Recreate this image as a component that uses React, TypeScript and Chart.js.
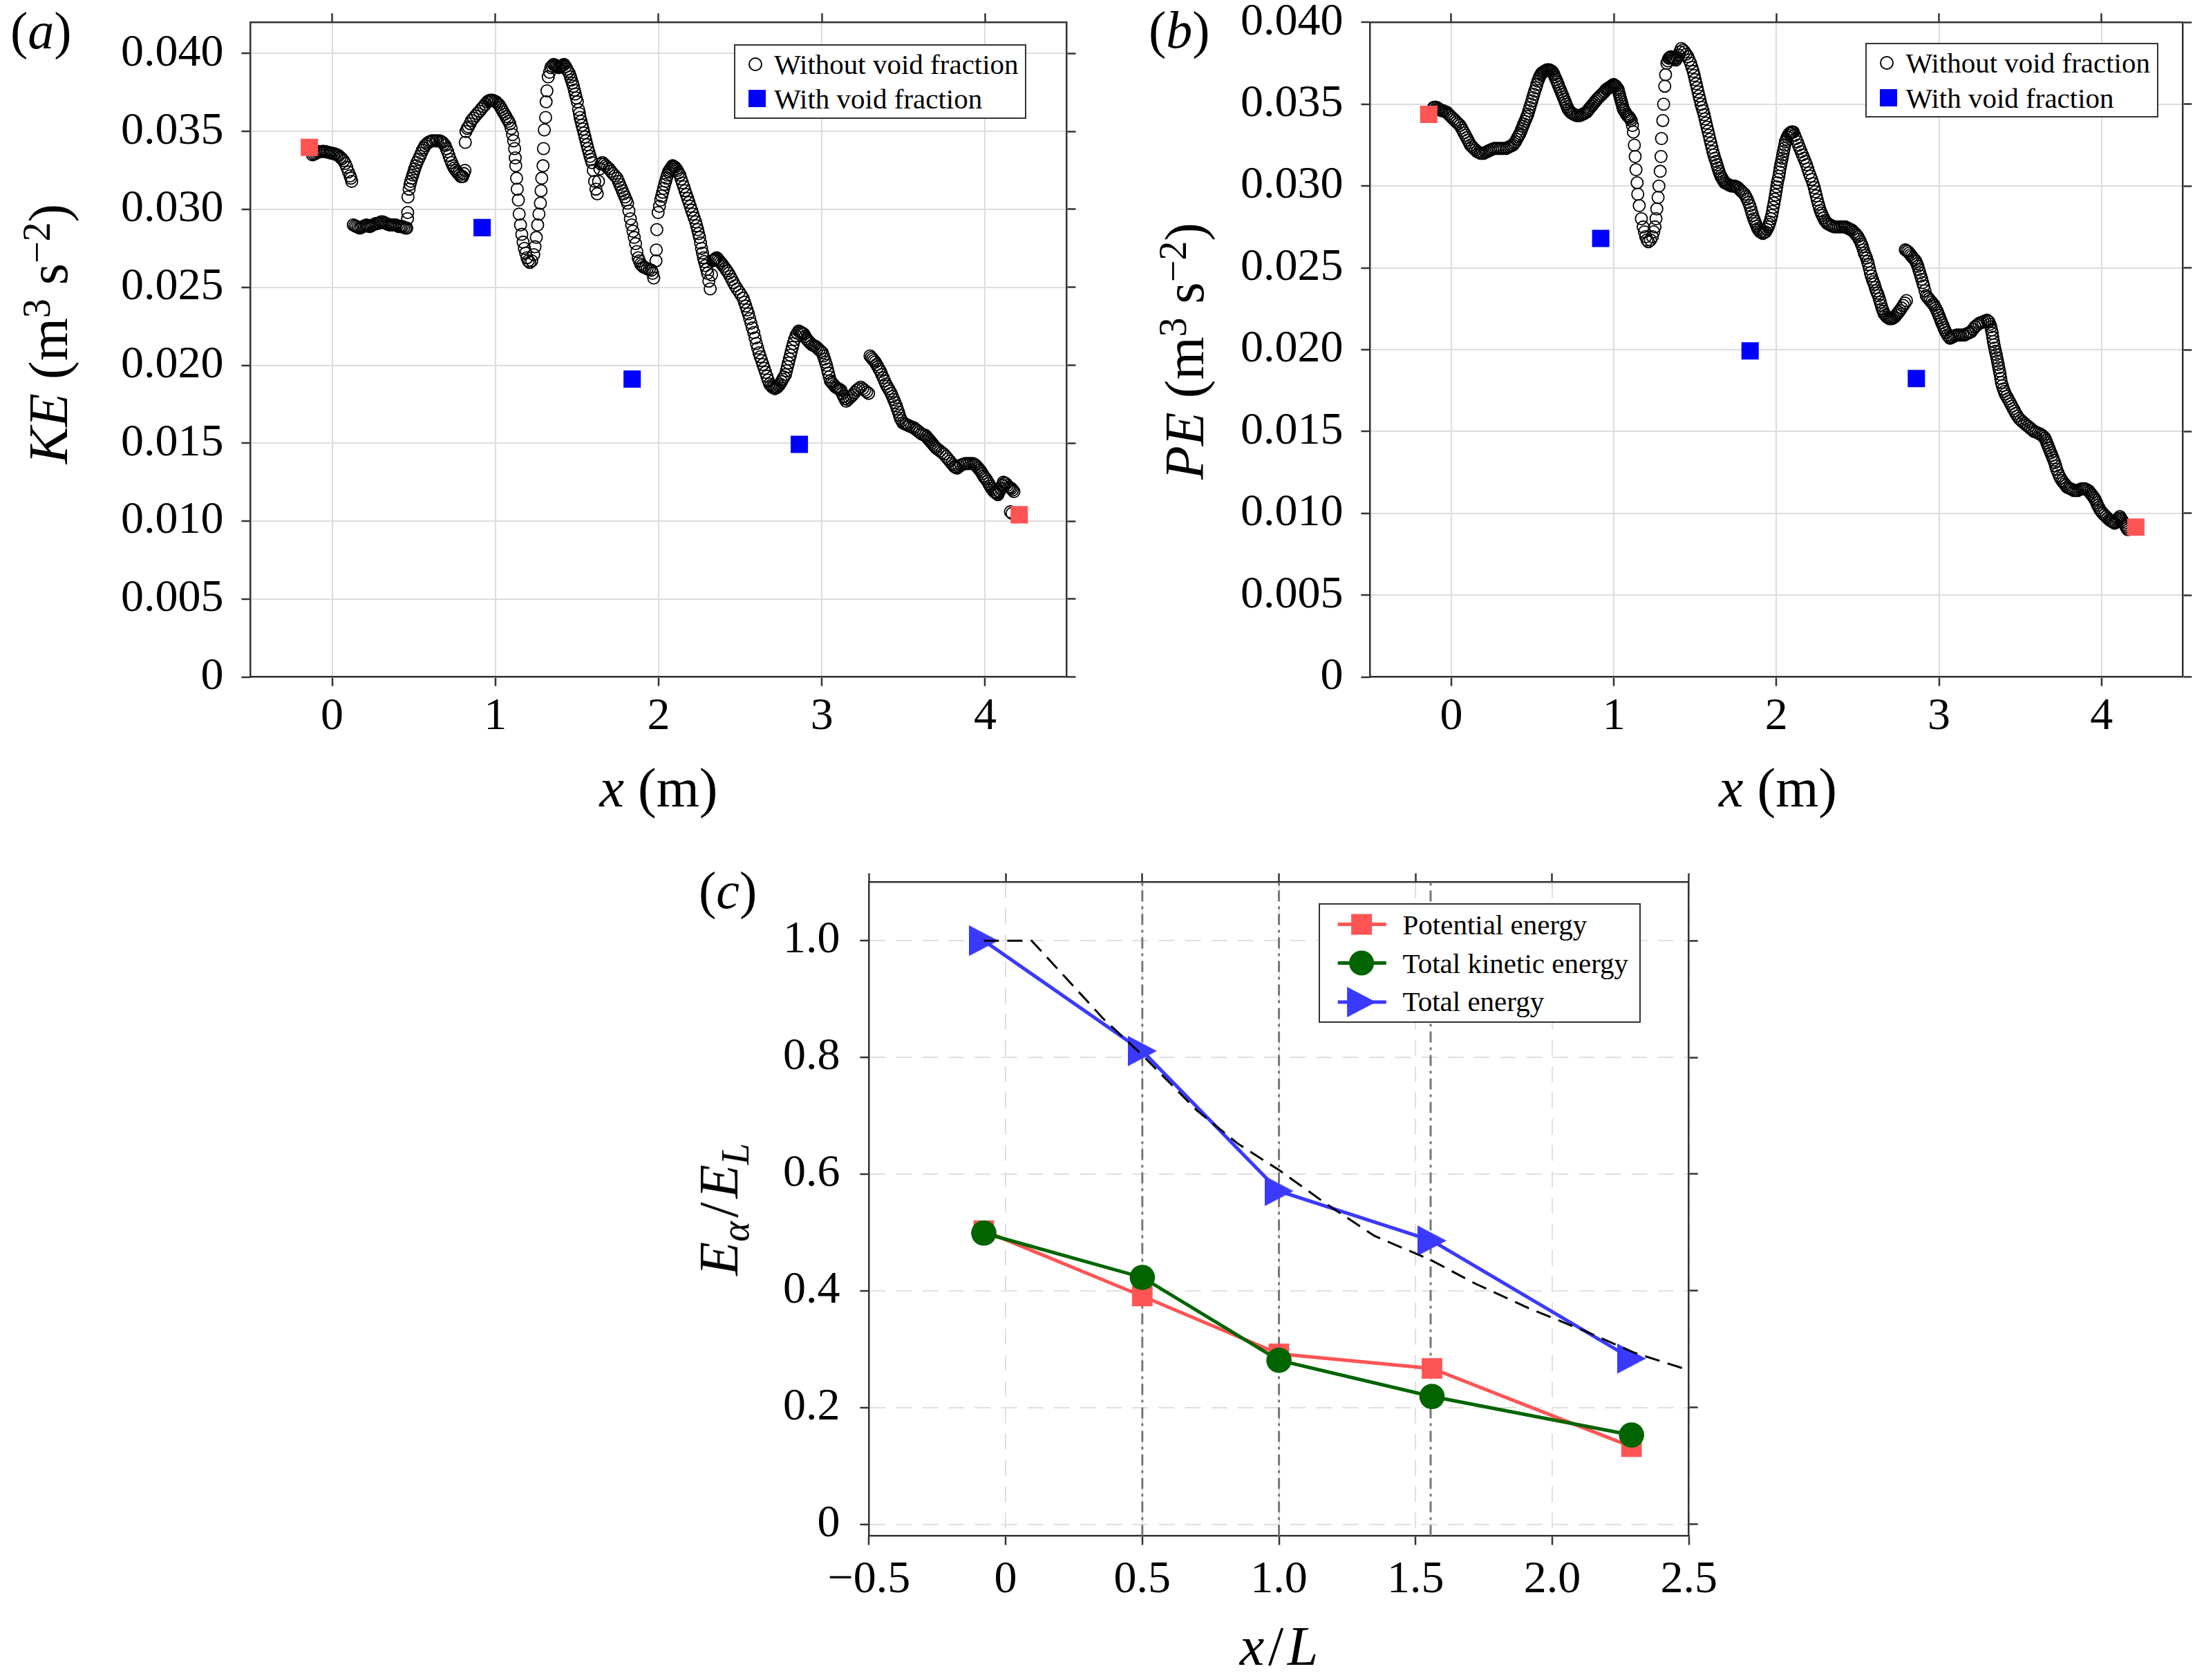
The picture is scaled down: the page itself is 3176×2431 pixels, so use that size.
import React, { useEffect, useRef } from "react";
import { Chart, registerables } from "chart.js";

Chart.register(...registerables);

const SERIF = "'Liberation Serif', 'Times New Roman', Times, serif";
const FRAME = "#333333";
const GRID_SOLID = "#dddddd";
const GRID_DASH = "#e0e0e0";

// ---------- Panel (a): kinetic energy, without void fraction ----------
const keWithout: number[][] = [
  [-0.12, 0.0335], [-0.11, 0.03355], [-0.1, 0.0336], [-0.09, 0.03365], [-0.08, 0.0337], [-0.07, 0.0337],
  [-0.06, 0.03372], [-0.05, 0.03372], [-0.04, 0.0337], [-0.03, 0.03368], [-0.02, 0.03365], [-0.01, 0.03362],
  [0, 0.0336], [0.01, 0.03358], [0.02, 0.03355], [0.03, 0.0335], [0.04, 0.03345], [0.05, 0.03335],
  [0.06, 0.03325], [0.07, 0.03312], [0.08, 0.03295], [0.09, 0.0327], [0.1, 0.0324], [0.11, 0.03215],
  [0.115, 0.032], [0.12, 0.0318],
  [0.13, 0.029], [0.14, 0.02895], [0.15, 0.0289], [0.16, 0.02885], [0.17, 0.0288], [0.18, 0.02885],
  [0.19, 0.0289], [0.2, 0.02895], [0.21, 0.029], [0.22, 0.02895], [0.23, 0.0289], [0.24, 0.02895],
  [0.25, 0.029], [0.26, 0.02905], [0.27, 0.0291], [0.28, 0.0291], [0.29, 0.02912], [0.3, 0.0292],
  [0.31, 0.0292], [0.32, 0.02915], [0.33, 0.0291], [0.34, 0.02905], [0.35, 0.029], [0.36, 0.029],
  [0.37, 0.029], [0.38, 0.029], [0.39, 0.029], [0.4, 0.02895], [0.41, 0.0289], [0.42, 0.0289],
  [0.43, 0.0289], [0.44, 0.02885], [0.45, 0.0288], [0.457, 0.0288],
  [0.462, 0.0294], [0.463, 0.0298], [0.465, 0.0308], [0.472, 0.0313], [0.477, 0.0316], [0.482, 0.0318],
  [0.488, 0.032], [0.494, 0.0322], [0.5, 0.0324], [0.506, 0.0326], [0.513, 0.0328], [0.52, 0.033],
  [0.529, 0.0332], [0.538, 0.0334], [0.546, 0.0336], [0.554, 0.0338], [0.562, 0.03395], [0.57, 0.0341],
  [0.58, 0.0342], [0.59, 0.0343], [0.6, 0.03435], [0.611, 0.0344], [0.62, 0.0344], [0.635, 0.0344],
  [0.645, 0.0344], [0.66, 0.0344], [0.668, 0.03435], [0.676, 0.0343], [0.684, 0.0342], [0.692, 0.0341],
  [0.7, 0.0339], [0.708, 0.0337], [0.716, 0.03345], [0.724, 0.0332], [0.732, 0.033], [0.74, 0.0328],
  [0.748, 0.03265], [0.757, 0.0325], [0.765, 0.0324], [0.773, 0.0323], [0.781, 0.0322], [0.789, 0.0321],
  [0.795, 0.0321], [0.8, 0.0321], [0.807, 0.0323], [0.814, 0.0325],
  [0.816, 0.0343], [0.82, 0.035], [0.828, 0.0352], [0.835, 0.0353], [0.845, 0.0355], [0.854, 0.0357],
  [0.866, 0.03585], [0.878, 0.036], [0.89, 0.03615], [0.903, 0.0363], [0.915, 0.03645], [0.927, 0.0366],
  [0.939, 0.03675], [0.951, 0.0369], [0.96, 0.03697], [0.968, 0.037], [0.976, 0.037], [0.984, 0.037],
  [0.994, 0.03695], [1.004, 0.0369], [1.014, 0.0368], [1.024, 0.0367], [1.032, 0.03655], [1.04, 0.0364],
  [1.048, 0.03625], [1.057, 0.0361], [1.065, 0.03595], [1.073, 0.0358], [1.081, 0.03565], [1.089, 0.0355],
  [1.097, 0.0352], [1.105, 0.0348], [1.112, 0.0344], [1.118, 0.0339], [1.122, 0.0333], [1.125, 0.0328],
  [1.13, 0.032], [1.134, 0.0313], [1.141, 0.0306], [1.146, 0.0297], [1.154, 0.029], [1.162, 0.0284],
  [1.17, 0.0279], [1.178, 0.0275], [1.186, 0.0272], [1.194, 0.0269], [1.202, 0.0267], [1.211, 0.0266],
  [1.223, 0.0267], [1.235, 0.0271], [1.243, 0.0276], [1.251, 0.0282], [1.259, 0.029], [1.267, 0.0297],
  [1.276, 0.0304], [1.28, 0.0312], [1.284, 0.032], [1.292, 0.0328], [1.295, 0.0339], [1.3, 0.0351],
  [1.308, 0.0359], [1.311, 0.0369], [1.316, 0.0376], [1.324, 0.0385], [1.332, 0.0388], [1.34, 0.0391],
  [1.348, 0.0392], [1.357, 0.0393], [1.365, 0.03925], [1.373, 0.0392], [1.381, 0.03915], [1.389, 0.0391],
  [1.397, 0.03915], [1.405, 0.0392], [1.413, 0.03925], [1.421, 0.0393], [1.43, 0.03915], [1.438, 0.039],
  [1.446, 0.03885], [1.454, 0.0387], [1.46, 0.0385], [1.466, 0.0383], [1.472, 0.0381], [1.478, 0.0379],
  [1.484, 0.03765], [1.49, 0.0374], [1.496, 0.03715], [1.502, 0.0369], [1.51, 0.0364], [1.515, 0.03615],
  [1.519, 0.0359], [1.525, 0.03565], [1.531, 0.0354], [1.537, 0.03515], [1.543, 0.0349], [1.549, 0.03465],
  [1.555, 0.0344], [1.561, 0.03415], [1.567, 0.0339], [1.574, 0.03365], [1.58, 0.0334], [1.586, 0.0332],
  [1.592, 0.033], [1.6, 0.0325], [1.608, 0.0318], [1.616, 0.0313], [1.624, 0.031], [1.632, 0.0318],
  [1.64, 0.0326], [1.648, 0.0329], [1.656, 0.033], [1.666, 0.0329], [1.676, 0.0328], [1.686, 0.0327],
  [1.697, 0.0326], [1.708, 0.03245], [1.72, 0.0323], [1.733, 0.03215], [1.746, 0.032], [1.754, 0.0318],
  [1.762, 0.0316], [1.77, 0.0314], [1.778, 0.0312], [1.786, 0.031], [1.794, 0.0308], [1.802, 0.0306],
  [1.81, 0.0304], [1.818, 0.0299], [1.827, 0.0294], [1.835, 0.029], [1.843, 0.0286], [1.851, 0.0282],
  [1.859, 0.0278], [1.867, 0.0273], [1.875, 0.0269], [1.882, 0.0267], [1.89, 0.0265], [1.899, 0.0264],
  [1.908, 0.0263], [1.919, 0.02625], [1.93, 0.0262], [1.943, 0.02615], [1.956, 0.0261], [1.963, 0.0259],
  [1.97, 0.0256], [1.984, 0.0267], [1.986, 0.0274], [1.989, 0.0287], [1.997, 0.0298], [2.005, 0.0302],
  [2.013, 0.0306], [2.019, 0.03085], [2.025, 0.0311], [2.031, 0.03135], [2.037, 0.0316], [2.043, 0.0318],
  [2.048, 0.032], [2.054, 0.0322], [2.06, 0.0324], [2.066, 0.0325], [2.073, 0.0326], [2.08, 0.0327],
  [2.086, 0.0328], [2.093, 0.03275], [2.1, 0.0327], [2.108, 0.0326], [2.115, 0.0325], [2.122, 0.03235],
  [2.13, 0.0322], [2.138, 0.03195], [2.146, 0.0317], [2.154, 0.03145], [2.162, 0.0312], [2.17, 0.03095],
  [2.178, 0.0307], [2.186, 0.03045], [2.194, 0.0302], [2.202, 0.02995], [2.21, 0.0297], [2.218, 0.02945],
  [2.227, 0.0292], [2.233, 0.02895], [2.239, 0.0287], [2.245, 0.02845], [2.251, 0.0282], [2.257, 0.02785],
  [2.263, 0.0275], [2.269, 0.0272], [2.275, 0.0269], [2.281, 0.02665], [2.288, 0.0264], [2.294, 0.02615],
  [2.3, 0.0259], [2.308, 0.0254], [2.316, 0.0249], [2.324, 0.0258], [2.332, 0.0267], [2.338, 0.02675],
  [2.344, 0.0268], [2.35, 0.02685], [2.356, 0.0269], [2.364, 0.0268], [2.372, 0.0267], [2.38, 0.0266],
  [2.388, 0.0265], [2.398, 0.02635], [2.409, 0.0262], [2.419, 0.02605], [2.429, 0.0259], [2.439, 0.0257],
  [2.449, 0.0255], [2.459, 0.0253], [2.469, 0.0251], [2.481, 0.0249], [2.494, 0.0247], [2.506, 0.0245],
  [2.518, 0.0243], [2.526, 0.02405], [2.534, 0.0238], [2.542, 0.02355], [2.55, 0.0233], [2.558, 0.023],
  [2.566, 0.0227], [2.574, 0.0224], [2.583, 0.0221], [2.591, 0.02175], [2.599, 0.0214], [2.607, 0.0211],
  [2.615, 0.0208], [2.623, 0.02055], [2.631, 0.0203], [2.639, 0.02005], [2.647, 0.0198], [2.655, 0.01955],
  [2.663, 0.0193], [2.671, 0.01905], [2.68, 0.0188], [2.688, 0.0187], [2.696, 0.0186], [2.704, 0.01855],
  [2.712, 0.0185], [2.72, 0.01855], [2.728, 0.0186], [2.736, 0.0187], [2.744, 0.0188], [2.752, 0.01895],
  [2.76, 0.0191], [2.768, 0.01925], [2.777, 0.0194], [2.783, 0.01965], [2.789, 0.0199], [2.795, 0.02015],
  [2.801, 0.0204], [2.807, 0.02065], [2.813, 0.0209], [2.819, 0.02115], [2.825, 0.0214], [2.833, 0.02165],
  [2.841, 0.0219], [2.85, 0.02205], [2.858, 0.0222], [2.866, 0.02215], [2.874, 0.0221], [2.882, 0.02205],
  [2.89, 0.022], [2.898, 0.02185], [2.906, 0.0217], [2.914, 0.0216], [2.922, 0.0215], [2.932, 0.0214],
  [2.942, 0.0213], [2.953, 0.02125], [2.963, 0.0212], [2.973, 0.0211], [2.983, 0.021], [2.993, 0.0209],
  [3.003, 0.0208], [3.01, 0.0206], [3.016, 0.0204], [3.022, 0.0202], [3.028, 0.02], [3.034, 0.01975],
  [3.04, 0.0195], [3.046, 0.01925], [3.052, 0.019], [3.06, 0.0189], [3.068, 0.0188], [3.076, 0.0187],
  [3.084, 0.0186], [3.092, 0.01855], [3.1, 0.0185], [3.108, 0.01845], [3.117, 0.0184], [3.125, 0.0182],
  [3.133, 0.018], [3.141, 0.01785], [3.149, 0.0177], [3.159, 0.0178], [3.169, 0.0179], [3.179, 0.018],
  [3.189, 0.0181], [3.201, 0.01825], [3.213, 0.0184], [3.225, 0.0185], [3.238, 0.0186], [3.25, 0.0185],
  [3.262, 0.0184], [3.274, 0.0183], [3.286, 0.0182],
  [3.295, 0.0206], [3.303, 0.0205], [3.311, 0.0204], [3.319, 0.0203], [3.327, 0.0202], [3.335, 0.02005],
  [3.343, 0.0199], [3.351, 0.01975], [3.359, 0.0196], [3.367, 0.0194], [3.376, 0.0192], [3.384, 0.019],
  [3.392, 0.0188], [3.4, 0.01865], [3.408, 0.0185], [3.416, 0.01835], [3.424, 0.0182], [3.432, 0.018],
  [3.44, 0.0178], [3.448, 0.0176], [3.456, 0.0174], [3.462, 0.0172], [3.469, 0.017], [3.475, 0.0168],
  [3.481, 0.0166], [3.489, 0.01645], [3.497, 0.0163], [3.507, 0.01625], [3.517, 0.0162], [3.527, 0.01615],
  [3.537, 0.0161], [3.55, 0.01605], [3.562, 0.016], [3.574, 0.0159], [3.586, 0.0158], [3.598, 0.0157],
  [3.61, 0.0156], [3.622, 0.01555], [3.634, 0.0155], [3.642, 0.0154], [3.65, 0.0153], [3.658, 0.0152],
  [3.667, 0.0151], [3.675, 0.015], [3.683, 0.0149], [3.691, 0.0148], [3.699, 0.0147], [3.711, 0.0146],
  [3.724, 0.0145], [3.736, 0.0144], [3.748, 0.0143], [3.76, 0.01415], [3.772, 0.014], [3.784, 0.01385],
  [3.796, 0.0137], [3.804, 0.0136], [3.812, 0.0135], [3.82, 0.01345], [3.828, 0.0134], [3.84, 0.0135],
  [3.852, 0.0136], [3.865, 0.01365], [3.877, 0.0137], [3.889, 0.0137], [3.901, 0.0137], [3.913, 0.0137],
  [3.926, 0.0137], [3.934, 0.01365], [3.942, 0.0136], [3.95, 0.0135], [3.958, 0.0134], [3.966, 0.0133],
  [3.974, 0.0132], [3.982, 0.01305], [3.99, 0.0129], [3.998, 0.0128], [4.006, 0.0127], [4.014, 0.01255],
  [4.023, 0.0124], [4.031, 0.01225], [4.039, 0.0121], [4.047, 0.012], [4.055, 0.0119], [4.061, 0.01185],
  [4.067, 0.0118], [4.073, 0.01175], [4.079, 0.0117], [4.087, 0.0119], [4.096, 0.0121], [4.104, 0.0123],
  [4.112, 0.0125], [4.12, 0.01245], [4.128, 0.0124], [4.136, 0.0123], [4.144, 0.0122], [4.152, 0.01215],
  [4.16, 0.0121], [4.168, 0.012], [4.176, 0.0119], [4.155, 0.0106], [4.165, 0.0105],
];
const keWithVoid: number[][] = [[0.919, 0.02883], [1.838, 0.01912], [2.862, 0.01493]];
const keEnds: number[][] = [[-0.139, 0.03398], [4.209, 0.01041]];

// ---------- Panel (b): potential energy, without void fraction ----------
const peWithout: number[][] = [
  [-0.109, 0.0348], [-0.1, 0.03482], [-0.09, 0.0348], [-0.083, 0.03475], [-0.076, 0.0347], [-0.068, 0.03465],
  [-0.06, 0.0346], [-0.05, 0.0346], [-0.04, 0.03455], [-0.028, 0.0345], [-0.018, 0.0344], [-0.008, 0.0343],
  [0.002, 0.0342], [0.013, 0.0341], [0.023, 0.034], [0.033, 0.0339], [0.043, 0.0338], [0.053, 0.0337],
  [0.062, 0.03355], [0.07, 0.0334], [0.078, 0.03325], [0.086, 0.0331], [0.094, 0.03295], [0.102, 0.0328],
  [0.11, 0.03265], [0.118, 0.0325], [0.128, 0.0324], [0.138, 0.0323], [0.148, 0.0322], [0.159, 0.0321],
  [0.169, 0.03205], [0.179, 0.032], [0.189, 0.032], [0.199, 0.032], [0.21, 0.03205], [0.22, 0.0321],
  [0.23, 0.03215], [0.24, 0.0322], [0.252, 0.03225], [0.264, 0.0323], [0.276, 0.0323], [0.288, 0.0323],
  [0.3, 0.0323], [0.312, 0.0323], [0.324, 0.0323], [0.337, 0.0323], [0.347, 0.03235], [0.357, 0.0324],
  [0.367, 0.03245], [0.378, 0.0325], [0.386, 0.0326], [0.394, 0.0327], [0.402, 0.03285], [0.41, 0.033],
  [0.416, 0.0331], [0.422, 0.0332], [0.428, 0.03335], [0.434, 0.0335], [0.44, 0.03365], [0.446, 0.0338],
  [0.452, 0.03395], [0.459, 0.0341], [0.465, 0.03425], [0.471, 0.0344], [0.477, 0.0346], [0.483, 0.0348],
  [0.489, 0.035], [0.495, 0.0352], [0.501, 0.0354], [0.507, 0.0356], [0.513, 0.0358], [0.52, 0.036],
  [0.526, 0.0362], [0.532, 0.0364], [0.538, 0.03655], [0.544, 0.0367], [0.55, 0.0368], [0.556, 0.0369],
  [0.564, 0.03695], [0.572, 0.037], [0.58, 0.03705], [0.588, 0.0371], [0.596, 0.0371], [0.604, 0.0371],
  [0.612, 0.03705], [0.62, 0.037], [0.626, 0.0369], [0.632, 0.0368], [0.638, 0.03665], [0.645, 0.0365],
  [0.651, 0.03635], [0.657, 0.0362], [0.663, 0.03605], [0.669, 0.0359], [0.676, 0.03575], [0.682, 0.0356],
  [0.688, 0.03545], [0.694, 0.0353], [0.7, 0.03515], [0.706, 0.035], [0.712, 0.03485], [0.718, 0.0347],
  [0.726, 0.0346], [0.734, 0.0345], [0.742, 0.03445], [0.75, 0.0344], [0.76, 0.03435], [0.77, 0.0343],
  [0.78, 0.0343], [0.791, 0.0343], [0.801, 0.03435], [0.811, 0.0344], [0.821, 0.03445], [0.831, 0.0345],
  [0.839, 0.0346], [0.847, 0.0347], [0.855, 0.0348], [0.864, 0.0349], [0.872, 0.035], [0.88, 0.0351],
  [0.888, 0.0352], [0.896, 0.0353], [0.906, 0.0354], [0.916, 0.0355], [0.926, 0.0356], [0.937, 0.0357],
  [0.945, 0.0358], [0.953, 0.0359], [0.961, 0.03595], [0.969, 0.036], [0.977, 0.03605], [0.984, 0.0361],
  [0.991, 0.03615], [0.998, 0.0362], [1.005, 0.03615], [1.012, 0.0361], [1.019, 0.036], [1.026, 0.0359],
  [1.03, 0.03575], [1.034, 0.0356], [1.038, 0.03545], [1.042, 0.0353], [1.046, 0.03515], [1.05, 0.035],
  [1.054, 0.03485], [1.058, 0.0347], [1.064, 0.0346], [1.07, 0.0345], [1.076, 0.0344], [1.083, 0.0343],
  [1.089, 0.03425], [1.095, 0.0342], [1.101, 0.0341], [1.107, 0.034], [1.114, 0.0337], [1.12, 0.0333],
  [1.126, 0.0325], [1.131, 0.0318], [1.136, 0.031], [1.143, 0.0302], [1.147, 0.0295], [1.156, 0.0288],
  [1.169, 0.028], [1.18, 0.0275], [1.188, 0.0272], [1.196, 0.0269], [1.204, 0.0267], [1.212, 0.0266],
  [1.225, 0.0267], [1.237, 0.0269], [1.245, 0.0272], [1.253, 0.0275], [1.259, 0.028], [1.264, 0.0286],
  [1.272, 0.0293], [1.277, 0.03], [1.285, 0.0309], [1.29, 0.0318], [1.293, 0.0329], [1.301, 0.034],
  [1.306, 0.035], [1.313, 0.0361], [1.318, 0.0368], [1.326, 0.0375], [1.332, 0.03765], [1.338, 0.0378],
  [1.344, 0.03785], [1.35, 0.0379], [1.358, 0.03785], [1.366, 0.0378], [1.374, 0.03775], [1.382, 0.0377],
  [1.39, 0.03785], [1.398, 0.038], [1.406, 0.0382], [1.415, 0.0384], [1.425, 0.0383], [1.435, 0.0382],
  [1.445, 0.03805], [1.455, 0.0379], [1.463, 0.0377], [1.472, 0.0375], [1.48, 0.03725], [1.488, 0.037],
  [1.494, 0.03675], [1.5, 0.0365], [1.506, 0.03625], [1.512, 0.036], [1.518, 0.03575], [1.524, 0.0355],
  [1.53, 0.03525], [1.536, 0.035], [1.542, 0.0348], [1.548, 0.0346], [1.555, 0.03435], [1.561, 0.0341],
  [1.567, 0.03385], [1.573, 0.0336], [1.579, 0.03335], [1.585, 0.0331], [1.591, 0.03285], [1.597, 0.0326],
  [1.603, 0.03235], [1.609, 0.0321], [1.615, 0.0319], [1.621, 0.0317], [1.628, 0.0315], [1.634, 0.0313],
  [1.64, 0.0311], [1.646, 0.0309], [1.652, 0.03075], [1.658, 0.0306], [1.664, 0.0305], [1.67, 0.0304],
  [1.676, 0.0303], [1.682, 0.0302], [1.692, 0.03015], [1.702, 0.0301], [1.712, 0.03005], [1.723, 0.03],
  [1.733, 0.03], [1.743, 0.03], [1.753, 0.02995], [1.763, 0.0299], [1.773, 0.0298], [1.783, 0.0297],
  [1.793, 0.0296], [1.804, 0.0295], [1.812, 0.02935], [1.82, 0.0292], [1.828, 0.029], [1.836, 0.0288],
  [1.842, 0.0286], [1.848, 0.0284], [1.854, 0.0282], [1.861, 0.028], [1.867, 0.02785], [1.873, 0.0277],
  [1.879, 0.02755], [1.885, 0.0274], [1.892, 0.0273], [1.9, 0.0272], [1.908, 0.02715], [1.917, 0.0271],
  [1.925, 0.02715], [1.933, 0.0272], [1.941, 0.02735], [1.95, 0.0275], [1.955, 0.02765], [1.96, 0.0278],
  [1.966, 0.028], [1.971, 0.0282], [1.976, 0.02845], [1.98, 0.0287], [1.985, 0.02895], [1.99, 0.0292],
  [1.994, 0.02945], [1.998, 0.0297], [2.002, 0.02995], [2.006, 0.0302], [2.01, 0.0304], [2.015, 0.0306],
  [2.019, 0.03085], [2.023, 0.0311], [2.027, 0.0313], [2.031, 0.0315], [2.035, 0.0317], [2.039, 0.0319],
  [2.043, 0.0321], [2.047, 0.0323], [2.051, 0.0325], [2.055, 0.0327], [2.061, 0.03285], [2.067, 0.033],
  [2.073, 0.0331], [2.079, 0.0332], [2.085, 0.03325], [2.092, 0.0333], [2.098, 0.0333], [2.104, 0.0333],
  [2.112, 0.0331], [2.12, 0.0329], [2.128, 0.0327], [2.136, 0.0325], [2.144, 0.0323], [2.152, 0.0321],
  [2.16, 0.0319], [2.169, 0.0317], [2.177, 0.0315], [2.185, 0.0313], [2.193, 0.03105], [2.201, 0.0308],
  [2.209, 0.0306], [2.217, 0.0304], [2.225, 0.03015], [2.233, 0.0299], [2.239, 0.02965], [2.245, 0.0294],
  [2.251, 0.02915], [2.258, 0.0289], [2.264, 0.0287], [2.27, 0.0285], [2.276, 0.02835], [2.282, 0.0282],
  [2.29, 0.02805], [2.298, 0.0279], [2.306, 0.0278], [2.314, 0.0277], [2.324, 0.02765], [2.334, 0.0276],
  [2.345, 0.02755], [2.355, 0.0275], [2.367, 0.0275], [2.38, 0.0275], [2.392, 0.0275], [2.404, 0.0275],
  [2.414, 0.0275], [2.424, 0.0275], [2.434, 0.02745], [2.444, 0.0274], [2.455, 0.02735], [2.465, 0.0273],
  [2.475, 0.0272], [2.485, 0.0271], [2.493, 0.027], [2.501, 0.0269], [2.509, 0.02675], [2.517, 0.0266],
  [2.523, 0.02645], [2.529, 0.0263], [2.535, 0.0261], [2.541, 0.0259], [2.548, 0.02575], [2.554, 0.0256],
  [2.56, 0.0254], [2.566, 0.0252], [2.572, 0.02495], [2.578, 0.0247], [2.584, 0.0245], [2.59, 0.0243],
  [2.596, 0.02415], [2.602, 0.024], [2.608, 0.0238], [2.614, 0.0236], [2.621, 0.02345], [2.627, 0.0233],
  [2.633, 0.0231], [2.639, 0.0229], [2.645, 0.0227], [2.651, 0.0225], [2.657, 0.02235], [2.663, 0.0222],
  [2.671, 0.0221], [2.679, 0.022], [2.687, 0.02195], [2.695, 0.0219], [2.703, 0.0219], [2.711, 0.0219],
  [2.72, 0.02195], [2.728, 0.022], [2.736, 0.0221], [2.744, 0.0222], [2.752, 0.0223], [2.76, 0.0224],
  [2.77, 0.02255], [2.78, 0.0227], [2.79, 0.02285], [2.8, 0.023],
  [2.793, 0.0261], [2.801, 0.02605], [2.809, 0.026], [2.817, 0.0259], [2.825, 0.0258], [2.833, 0.0257],
  [2.841, 0.0256], [2.85, 0.0255], [2.858, 0.0254], [2.864, 0.02525], [2.87, 0.0251], [2.876, 0.0249],
  [2.882, 0.0247], [2.888, 0.0245], [2.894, 0.0243], [2.9, 0.0241], [2.906, 0.0239], [2.914, 0.0236],
  [2.922, 0.0233], [2.93, 0.0232], [2.938, 0.0231], [2.946, 0.023], [2.955, 0.0229], [2.963, 0.0228],
  [2.971, 0.0227], [2.979, 0.02255], [2.987, 0.0224], [2.993, 0.02225], [2.999, 0.0221], [3.005, 0.02195],
  [3.011, 0.0218], [3.017, 0.02165], [3.024, 0.0215], [3.03, 0.02135], [3.036, 0.0212], [3.044, 0.02105],
  [3.052, 0.0209], [3.06, 0.0208], [3.068, 0.0207], [3.078, 0.02075], [3.088, 0.0208], [3.098, 0.02085],
  [3.109, 0.0209], [3.121, 0.0209], [3.133, 0.0209], [3.145, 0.0209], [3.157, 0.0209], [3.167, 0.02095],
  [3.178, 0.021], [3.188, 0.02105], [3.198, 0.0211], [3.21, 0.02125], [3.222, 0.0214], [3.234, 0.0215],
  [3.246, 0.0216], [3.258, 0.02165], [3.27, 0.0217], [3.282, 0.02175], [3.295, 0.0218], [3.301, 0.02175],
  [3.307, 0.0217], [3.313, 0.02155], [3.319, 0.0214], [3.323, 0.0212], [3.327, 0.021], [3.331, 0.02075],
  [3.335, 0.0205], [3.339, 0.0203], [3.343, 0.0201], [3.347, 0.0199], [3.352, 0.0197], [3.356, 0.0195],
  [3.36, 0.0193], [3.364, 0.0191], [3.368, 0.0189], [3.372, 0.0187], [3.376, 0.0185], [3.38, 0.01825],
  [3.384, 0.018], [3.39, 0.0178], [3.396, 0.0176], [3.402, 0.01745], [3.408, 0.0173], [3.416, 0.01715],
  [3.425, 0.017], [3.433, 0.01685], [3.441, 0.0167], [3.449, 0.01655], [3.457, 0.0164], [3.465, 0.01625],
  [3.473, 0.0161], [3.483, 0.01595], [3.493, 0.0158], [3.503, 0.0157], [3.514, 0.0156], [3.526, 0.0155],
  [3.538, 0.0154], [3.55, 0.0153], [3.562, 0.0152], [3.574, 0.0151], [3.586, 0.015], [3.598, 0.01495],
  [3.611, 0.0149], [3.621, 0.01485], [3.631, 0.0148], [3.641, 0.0147], [3.652, 0.0146], [3.658, 0.01445],
  [3.664, 0.0143], [3.67, 0.01415], [3.676, 0.014], [3.682, 0.01385], [3.688, 0.0137], [3.694, 0.01355],
  [3.7, 0.0134], [3.706, 0.01325], [3.712, 0.0131], [3.718, 0.0129], [3.724, 0.0127], [3.732, 0.0125],
  [3.74, 0.0123], [3.748, 0.01215], [3.757, 0.012], [3.765, 0.0119], [3.773, 0.0118], [3.781, 0.0117],
  [3.789, 0.0116], [3.8, 0.01155], [3.81, 0.0115], [3.82, 0.01145], [3.83, 0.0114], [3.842, 0.0114],
  [3.854, 0.0114], [3.866, 0.01145], [3.878, 0.0115], [3.888, 0.0115], [3.898, 0.0115], [3.908, 0.01145],
  [3.919, 0.0114], [3.927, 0.0113], [3.935, 0.0112], [3.943, 0.0111], [3.951, 0.011], [3.957, 0.0109],
  [3.963, 0.0108], [3.97, 0.01065], [3.976, 0.0105], [3.984, 0.01035], [3.992, 0.0102], [4.0, 0.0101],
  [4.008, 0.01], [4.018, 0.0099], [4.028, 0.0098], [4.038, 0.0097], [4.049, 0.0096], [4.057, 0.00955],
  [4.065, 0.0095], [4.073, 0.00945], [4.081, 0.0094], [4.089, 0.0095], [4.097, 0.0096], [4.105, 0.0097],
  [4.113, 0.0098], [4.119, 0.0097], [4.125, 0.0096], [4.131, 0.0095], [4.138, 0.0094], [4.144, 0.0093],
  [4.15, 0.0092], [4.156, 0.0091], [4.162, 0.009],
];
const peWithVoid: number[][] = [[0.919, 0.0268], [1.838, 0.01993], [2.861, 0.01824]];
const peEnds: number[][] = [[-0.139, 0.03438], [4.211, 0.00916]];

const abXTicks = [0, 1, 2, 3, 4];
const abXLabels = ["0", "1", "2", "3", "4"];
const abYTicks = [0, 0.005, 0.01, 0.015, 0.02, 0.025, 0.03, 0.035, 0.04];
const abYLabels = ["0", "0.005", "0.010", "0.015", "0.020", "0.025", "0.030", "0.035", "0.040"];

// ---------- Panel (c): normalised energies ----------
const cX = [-0.08, 0.5, 1.0, 1.56, 2.29];
const cPotential = [0.503, 0.391, 0.292, 0.267, 0.133];
const cKinetic = [0.499, 0.423, 0.281, 0.219, 0.153];
const cTotal = [1.0, 0.811, 0.571, 0.486, 0.284];
const cRefX = [-0.08, 0.095, 0.36, 0.5, 0.7, 0.85, 1.0, 1.17, 1.35, 1.555, 1.72, 1.92, 2.12, 2.3, 2.5];
const cRefY = [1.0, 1.0, 0.865, 0.804, 0.709, 0.652, 0.607, 0.55, 0.494, 0.453, 0.412, 0.369, 0.331, 0.294, 0.264];
const cMarkX = [0.5, 1.0, 1.555];
const cXTicks = [-0.5, 0, 0.5, 1.0, 1.5, 2.0, 2.5];
const cXLabels = ["\u22120.5", "0", "0.5", "1.0", "1.5", "2.0", "2.5"];
const cYTicks = [0, 0.2, 0.4, 0.6, 0.8, 1.0];
const cYLabels = ["0", "0.2", "0.4", "0.6", "0.8", "1.0"];

const RED = "#ff5454";
const GREEN = "#006400";
const BLUE = "#3a3aff";
const PURE_BLUE = "#0000ff";

type Frame = {
  xMin: number; xMax: number; xTicks: number[]; xLabels: string[];
  yMin: number; yMax: number; yTicks: number[]; yLabels: string[];
  left: number; right: number; top: number; bottom: number;
  xPad: number; yPad: number; gridColor: string; dash: number[];
};

function frameScales(f: Frame): any {
  const font = { family: SERIF, size: 66 };
  const setTicks = (arr: number[]) => (s: any) => {
    s.ticks = arr.map((v) => ({ value: v }));
  };
  const mainGrid = {
    color: f.gridColor, lineWidth: 2, tickColor: FRAME, tickWidth: 2.5, tickLength: 13,
    tickBorderDash: [], drawTicks: true,
  };
  const farGrid = { drawOnChartArea: false, tickColor: FRAME, tickWidth: 2.5, tickLength: 13, drawTicks: true };
  const border = { display: true, color: FRAME, width: 2.5, dash: f.dash };
  const farBorder = { display: true, color: FRAME, width: 2.5 };
  return {
    x: {
      type: "linear", position: "bottom", min: f.xMin, max: f.xMax,
      afterBuildTicks: setTicks(f.xTicks),
      afterFit: (s: any) => { s.height = f.bottom; },
      ticks: {
        font, color: "#000", padding: f.xPad, autoSkip: false, maxRotation: 0, minRotation: 0,
        callback: (_v: any, i: number) => f.xLabels[i],
      },
      grid: mainGrid, border,
    },
    x2: {
      type: "linear", position: "top", min: f.xMin, max: f.xMax,
      afterBuildTicks: setTicks(f.xTicks),
      afterFit: (s: any) => { s.height = f.top; },
      ticks: { display: false },
      grid: farGrid, border: farBorder,
    },
    y: {
      type: "linear", position: "left", min: f.yMin, max: f.yMax,
      afterBuildTicks: setTicks(f.yTicks),
      afterFit: (s: any) => { s.width = f.left; },
      ticks: {
        font, color: "#000", padding: f.yPad, autoSkip: false,
        callback: (_v: any, i: number) => f.yLabels[i],
      },
      grid: mainGrid, border,
    },
    y2: {
      type: "linear", position: "right", min: f.yMin, max: f.yMax,
      afterBuildTicks: setTicks(f.yTicks),
      afterFit: (s: any) => { s.width = f.right; },
      ticks: { display: false },
      grid: farGrid, border: farBorder,
    },
  };
}

const baseOptions = {
  responsive: false,
  maintainAspectRatio: false,
  animation: false,
  devicePixelRatio: 1,
  events: [] as any[],
  layout: { padding: 0 },
  plugins: { legend: { display: false }, tooltip: { enabled: false } },
};

const toXY = (pts: number[][]) => pts.map(([x, y]) => ({ x, y }));

function energyConfig(without: number[][], withVoid: number[][], ends: number[][], yMax: number, right: number) {
  return {
    type: "scatter",
    data: {
      datasets: [
        {
          label: "Inflow / outflow", data: toXY(ends), pointStyle: "rect", pointRadius: 17.7,
          backgroundColor: RED, borderColor: RED, borderWidth: 0, order: 0,
        },
        {
          label: "With void fraction", data: toXY(withVoid), pointStyle: "rect", pointRadius: 17.7,
          backgroundColor: PURE_BLUE, borderColor: PURE_BLUE, borderWidth: 0, order: 1,
        },
        {
          label: "Without void fraction", data: toXY(without), pointStyle: "circle", pointRadius: 8.6,
          backgroundColor: "rgba(0,0,0,0)", borderColor: "#000", borderWidth: 1.8, order: 2,
        },
      ],
    },
    options: {
      ...baseOptions,
      scales: frameScales({
        xMin: -0.5, xMax: 4.5, xTicks: abXTicks, xLabels: abXLabels,
        yMin: 0, yMax, yTicks: abYTicks, yLabels: abYLabels,
        left: 202.4, right, top: 72.3, bottom: 120.3,
        xPad: 5, yPad: 26, gridColor: GRID_SOLID, dash: [],
      }),
    },
  };
}

function makeTriangle(w: number, h: number, color: string) {
  const c = document.createElement("canvas");
  c.width = w;
  c.height = h;
  const g = c.getContext("2d")!;
  g.fillStyle = color;
  g.beginPath();
  g.moveTo(0, 0);
  g.lineTo(w, h / 2);
  g.lineTo(0, h);
  g.closePath();
  g.fill();
  return c;
}

function ratioConfig() {
  const tri = makeTriangle(42, 44, BLUE);
  const marks = cMarkX.map((mx) => ({
    label: "x = " + mx, data: [{ x: mx, y: -0.02 }, { x: mx, y: 1.1 }], showLine: true,
    borderColor: "#777777", borderWidth: 3, borderDash: [16, 7, 4, 7], pointRadius: 0, order: 10,
  }));
  return {
    type: "scatter",
    data: {
      datasets: [
        ...marks,
        {
          label: "Potential energy", data: cX.map((x, i) => ({ x, y: cPotential[i] })), showLine: true,
          borderColor: RED, backgroundColor: RED, borderWidth: 5, pointStyle: "rect", pointRadius: 21,
          pointBorderWidth: 0, order: 5,
        },
        {
          label: "Total kinetic energy", data: cX.map((x, i) => ({ x, y: cKinetic[i] })), showLine: true,
          borderColor: GREEN, backgroundColor: GREEN, borderWidth: 5, pointStyle: "circle", pointRadius: 18.3,
          pointBorderWidth: 0, order: 4,
        },
        {
          label: "Total energy", data: cX.map((x, i) => ({ x, y: cTotal[i] })), showLine: true,
          borderColor: BLUE, backgroundColor: BLUE, borderWidth: 5, pointStyle: tri, pointRadius: 22,
          pointBorderWidth: 0, order: 3,
        },
        {
          label: "Reference decay", data: cRefX.map((x, i) => ({ x, y: cRefY[i] })), showLine: true,
          borderColor: "#000", borderWidth: 3, borderDash: [22, 12], pointRadius: 0, order: 2,
        },
      ],
    },
    options: {
      ...baseOptions,
      scales: frameScales({
        xMin: -0.5, xMax: 2.5, xTicks: cXTicks, xLabels: cXLabels,
        yMin: -0.02, yMax: 1.1, yTicks: cYTicks, yLabels: cYLabels,
        left: 197.4, right: 116.3, top: 76.7, bottom: 117.4,
        xPad: 11, yPad: 29, gridColor: GRID_DASH, dash: [23, 15],
      }),
    },
  };
}

function ChartCanvas(props: { left: number; top: number; width: number; height: number; build: () => any }) {
  const ref = useRef<HTMLCanvasElement>(null);
  useEffect(() => {
    const chart = new Chart(ref.current as HTMLCanvasElement, props.build());
    return () => chart.destroy();
  }, []);
  return (
    <canvas
      ref={ref}
      width={props.width}
      height={props.height}
      style={{ position: "absolute", left: props.left, top: props.top, width: props.width, height: props.height }}
    />
  );
}

const at = (left: number, top: number, extra: any = {}) => ({ position: "absolute" as const, left, top, ...extra });
const sup: any = { fontSize: "0.7em", position: "relative", top: "-0.45em", verticalAlign: "baseline" };
const sub: any = { fontSize: "0.7em", position: "relative", top: "0.28em", verticalAlign: "baseline" };
const slash: any = { margin: "0 0.07em" };
const textBase: any = { fontFamily: SERIF, lineHeight: 1, whiteSpace: "nowrap", color: "#000" };

function YTitle(props: { cx: number; cy: number; children: any }) {
  return (
    <div
      style={{
        ...textBase, position: "absolute", left: props.cx, top: props.cy, fontSize: 80,
        transform: "translate(-50%, -50%) rotate(-90deg)",
      }}
    >
      {props.children}
    </div>
  );
}

function XTitle(props: { cx: number; baseline: number; children: any }) {
  return (
    <div
      style={{
        ...textBase, position: "absolute", left: props.cx, top: props.baseline - 67, fontSize: 80,
        transform: "translateX(-50%)",
      }}
    >
      {props.children}
    </div>
  );
}

function PanelLabel(props: { left: number; baseline: number; letter: string }) {
  return (
    <div style={{ ...textBase, ...at(props.left, props.baseline - 63.6), fontSize: 76 }}>
      (<i>{props.letter}</i>)
    </div>
  );
}

function VoidLegend(props: { left: number; top: number }) {
  const { left, top } = props;
  return (
    <>
      <div
        style={at(left, top, {
          width: 423.6, height: 107.9, border: "2px solid " + FRAME, boxSizing: "border-box", background: "#fff",
        })}
      />
      <div
        style={at(left + 21.2, top + 19, {
          width: 20, height: 20, borderRadius: "50%", border: "2px solid #000", boxSizing: "border-box",
        })}
      />
      <div style={at(left + 20.7, top + 66.3, { width: 25, height: 25, background: PURE_BLUE })} />
      <div style={{ ...textBase, ...at(left + 58.2, top + 8.8), fontSize: 41 }}>Without void fraction</div>
      <div style={{ ...textBase, ...at(left + 58.2, top + 59.3), fontSize: 41 }}>With void fraction</div>
    </>
  );
}

function EnergyLegend() {
  const L = 1907.9;
  const T = 1306.5;
  const rows = [30.6, 86.5, 143.1];
  const mx = 62.1;
  return (
    <>
      <div
        style={at(L, T, {
          width: 466.6, height: 173, border: "2px solid " + FRAME, boxSizing: "border-box", background: "#fff",
        })}
      />
      <svg style={at(L, T)} width={466.6} height={173}>
        <line x1={27.7} x2={97.8} y1={rows[0]} y2={rows[0]} stroke={RED} strokeWidth={5} />
        <rect x={mx - 15} y={rows[0] - 15} width={30} height={30} fill={RED} />
        <line x1={27.7} x2={97.8} y1={rows[1]} y2={rows[1]} stroke={GREEN} strokeWidth={5} />
        <circle cx={mx} cy={rows[1]} r={18} fill={GREEN} />
        <line x1={27.7} x2={97.8} y1={rows[2]} y2={rows[2]} stroke={BLUE} strokeWidth={5} />
        <polygon
          points={`${mx - 21},${rows[2] - 22} ${mx + 21},${rows[2]} ${mx - 21},${rows[2] + 22}`}
          fill={BLUE}
        />
      </svg>
      <div style={{ ...textBase, ...at(2029.5, 1318.1), fontSize: 41 }}>Potential energy</div>
      <div style={{ ...textBase, ...at(2029.5, 1374.0), fontSize: 41 }}>Total kinetic energy</div>
      <div style={{ ...textBase, ...at(2029.5, 1429.1), fontSize: 41 }}>Total energy</div>
    </>
  );
}

export default function App() {
  return (
    <div
      style={{
        position: "absolute", left: 0, top: 0, width: 3176, height: 2431, background: "#fff", overflow: "hidden",
        fontFamily: SERIF,
      }}
    >
      <ChartCanvas
        left={160} top={-40} width={1440} height={1140}
        build={() => energyConfig(keWithout, keWithVoid, keEnds, 0.042, 56.5)}
      />
      <ChartCanvas
        left={1780} top={-40} width={1396} height={1140}
        build={() => energyConfig(peWithout, peWithVoid, peEnds, 0.04, 13.2)}
      />
      <ChartCanvas left={1060} top={1200} width={1500} height={1140} build={ratioConfig} />

      <PanelLabel left={15} baseline={70} letter="a" />
      <PanelLabel left={1662} baseline={69} letter="b" />
      <PanelLabel left={1011} baseline={1314} letter="c" />

      <YTitle cx={70} cy={483}>
        <i>KE</i> (m<span style={sup}>3</span> s<span style={sup}>{"\u22122"}</span>)
      </YTitle>
      <YTitle cx={1714} cy={508}>
        <i>PE</i> (m<span style={sup}>3</span> s<span style={sup}>{"\u22122"}</span>)
      </YTitle>
      <YTitle cx={1040} cy={1750}>
        <i>E</i><span style={sub}><i>{"\u03b1"}</i></span><span style={slash}>/</span><i>E</i>
        <span style={sub}><i>L</i></span>
      </YTitle>

      <XTitle cx={953} baseline={1167}>
        <i>x</i> (m)
      </XTitle>
      <XTitle cx={2572.5} baseline={1167}>
        <i>x</i> (m)
      </XTitle>
      <XTitle cx={1850.5} baseline={2408.5}>
        <i>x</i><span style={slash}>/</span><i>L</i>
      </XTitle>

      <VoidLegend left={1061.8} top={63.7} />
      <VoidLegend left={2699.2} top={62.4} />
      <EnergyLegend />
    </div>
  );
}
